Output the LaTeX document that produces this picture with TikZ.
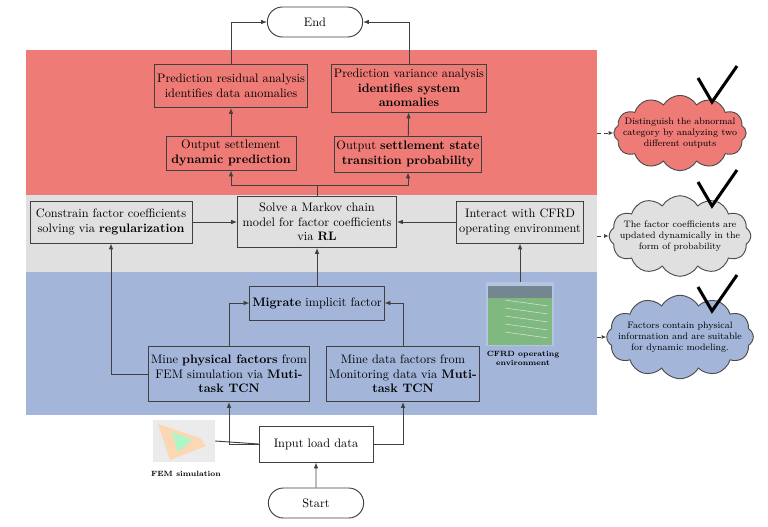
\documentclass[tikz,border=0pt]{standalone}
\usepackage{amsmath}
\usetikzlibrary{shapes.symbols,shapes.misc,arrows.meta}
\definecolor{bandred}{HTML}{EE7B76}
\definecolor{bandgray}{HTML}{E0E0E0}
\definecolor{bandblue}{HTML}{A3B6DA}
\tikzset{
  box/.style={draw=black!75,thick,align=center,font=\fontsize{10.5}{12.5}\selectfont,inner sep=2pt},
  term/.style={box,rounded rectangle,fill=white,minimum width=100*0.03cm,minimum height=30*0.03cm},
  flow/.style={-{Latex[length=5pt,width=4pt]},black!75,thick},
  note/.style={cloud,cloud puffs=12,cloud puff arc=120,aspect=2.2,draw=black!70,thick,align=center,
    font=\fontsize{8}{9.5}\selectfont,inner sep=-10pt},
  hint/.style={-{Latex[length=4pt,width=3.5pt]},dashed,black!75,thick},
  tick/.style={line width=2.6pt,line join=miter},
  caption/.style={font=\bfseries\fontsize{6.5}{7.5}\selectfont,align=center}
}
\begin{document}
\begin{tikzpicture}[x=0.03cm,y=-0.03cm]
\useasboundingbox (0,0) rectangle (768,526);
% bands
\fill[bandred] (26,50) rectangle (597,195);
\fill[bandgray] (26,195) rectangle (597,272);
\fill[bandblue] (26,272) rectangle (597,415);
% terminals
\node[term] (end) at (315,22) {End};
\node[term] (start) at (316,503) {Start};
% red band
\node[box,minimum width=148*0.03cm,minimum height=43*0.03cm] (resid) at (231,86) {Prediction residual analysis\\identifies data anomalies};
\node[box,minimum width=152*0.03cm,minimum height=48*0.03cm] (var) at (409,88) {Prediction variance analysis\\\textbf{identifies system}\\\textbf{anomalies}};
\node[box,minimum width=130*0.03cm,minimum height=34*0.03cm] (outdyn) at (231,153) {Output settlement\\\textbf{dynamic prediction}};
\node[box,minimum width=136*0.03cm,minimum height=36*0.03cm] (outprob) at (408,154) {Output \textbf{settlement state}\\\textbf{transition probability}};
% gray band
\node[box,minimum width=162*0.03cm,minimum height=42*0.03cm] (constr) at (111,222) {Constrain factor coefficients\\solving via \textbf{regularization}};
\node[box,minimum width=159*0.03cm,minimum height=51*0.03cm] (solve) at (317,222) {Solve a Markov chain\\model for factor coefficients\\via \textbf{RL}};
\node[box,minimum width=126*0.03cm,minimum height=42*0.03cm] (interact) at (520,222) {Interact with CFRD\\operating environment};
% blue band
\node[box,minimum width=133*0.03cm,minimum height=34*0.03cm] (migrate) at (317,303) {\textbf{Migrate} implicit factor};
\node[box,minimum width=153*0.03cm,minimum height=55*0.03cm] (minephy) at (229,374) {Mine \textbf{physical factors} from\\FEM simulation via \textbf{Muti-}\\\textbf{task TCN}};
\node[box,minimum width=152*0.03cm,minimum height=55*0.03cm] (minedata) at (403,374) {Mine data factors from\\Monitoring data via \textbf{Muti-}\\\textbf{task TCN}};
\node[box,fill=white,minimum width=114*0.03cm,minimum height=36*0.03cm] (input) at (316,444) {Input load data};
% pictures
\node[fill=black!8,minimum width=62*0.03cm,minimum height=42*0.03cm,inner sep=0pt] (femimg) at (184,441) {};
\fill[orange!35,opacity=.8] (158,424) -- (200,438) -- (206,446) -- (170,460) -- cycle;
\fill[green!50!cyan!40,opacity=.8] (172,432) -- (192,440) -- (178,452) -- cycle;
\node[caption] (femcap) at (186,474) {FEM simulation};
\node[fill=bandblue!80!white,minimum width=68*0.03cm,minimum height=64*0.03cm,inner sep=0pt] (cfrdimg) at (520,314) {};
\fill[black!55!green!50] (488,286) rectangle (552,345);
\fill[cyan!30!black!70] (488,286) rectangle (552,298);
\foreach \k in {0,...,4}
  \draw[white!80!gray,thin] (505,300+8*\k) -- (548,306+8*\k);
\node[caption] (cfrdcap) at (523,358) {CFRD operating\\environment};
% connectors
\draw[flow] (start) -- (input);
\draw[flow] (input.west) -| (minephy.south);
\draw[black!75,thick] (femimg.east) -- (input.west);
\draw[flow] (input.east) -| (minedata.south);
\draw[flow] (minephy.north) |- (migrate.west);
\draw[flow] (minedata.north) |- (migrate.east);
\draw[flow] (migrate) -- (solve);
\draw[flow] (minephy.west) -| (constr.south);
\draw[flow] (constr) -- (solve);
\draw[flow] (interact) -- (solve);
\draw[flow] (cfrdimg.north) -- (interact.south);
\coordinate (split) at (317,185);
\draw[black!75,thick] (solve.north) -- (split);
\draw[flow] (split) -| (outdyn.south);
\draw[flow] (split) -| (outprob.south);
\draw[flow] (outdyn) -- (resid);
\draw[flow] (outprob) -- (var);
\draw[flow] (resid.north) |- (end.west);
\draw[flow] (var.north) |- (end.east);
% notes
\node[note,fill=bandred] (noteA) at (680,133) {Distinguish the abnormal\\category by analyzing two\\different outputs};
\node[note,fill=bandgray] (noteB) at (680,236) {The factor coefficients are\\updated dynamically in the\\form of probability};
\node[note,fill=bandblue] (noteC) at (680,337) {Factors contain physical\\information and are suitable\\for dynamic modeling.};
\coordinate (bandA) at (597,133);
\coordinate (bandB) at (597,236);
\coordinate (bandC) at (597,337);
\draw[hint] (bandA) -- (noteA.west);
\draw[hint] (bandB) -- (noteB.west);
\draw[hint] (bandC) -- (noteC.west);
\foreach \n/\y in {A/66,B/170,C/275}
  \draw[tick] (698,\y+12) -- (712,\y+36) -- (737,\y);
\end{tikzpicture}
\end{document}
